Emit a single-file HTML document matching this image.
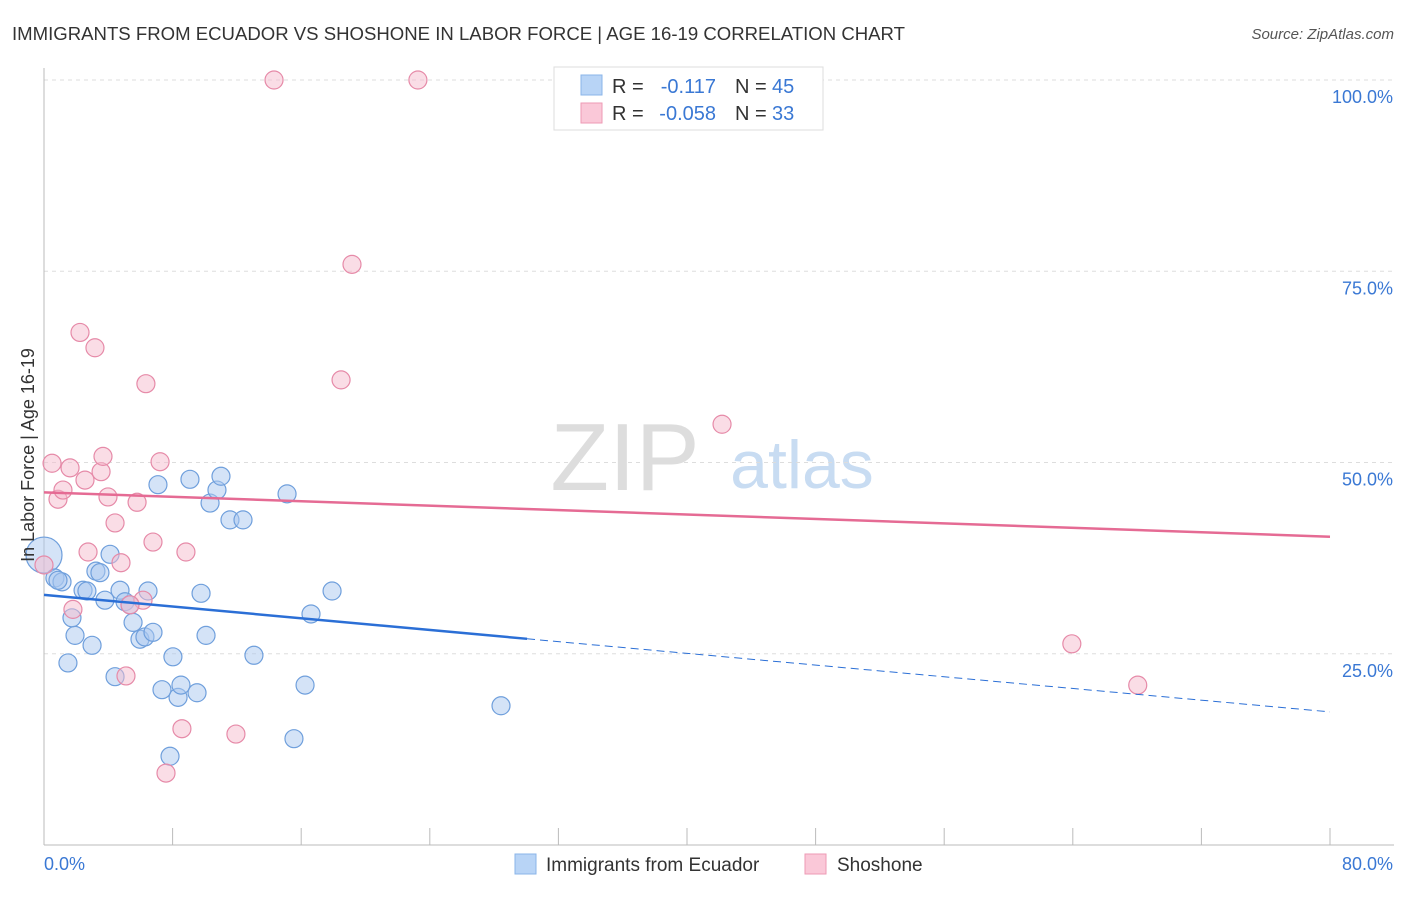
<!DOCTYPE html>
<html><head><meta charset="utf-8"><style>
body{margin:0;background:#fff;font-family:"Liberation Sans",sans-serif;}
svg text{font-family:"Liberation Sans",sans-serif;}
</style></head><body>
<svg id="c" width="1406" height="892" xmlns="http://www.w3.org/2000/svg">
<text x="12" y="40" font-size="18" fill="#333" textLength="893" lengthAdjust="spacingAndGlyphs">IMMIGRANTS FROM ECUADOR VS SHOSHONE IN LABOR FORCE | AGE 16-19 CORRELATION CHART</text>
<text x="1394" y="39" font-size="15" fill="#555" text-anchor="end" font-style="italic">Source: ZipAtlas.com</text>
<text x="625" y="490" font-size="96" fill="#ddd" font-family="Liberation Serif" text-anchor="middle">ZIP</text>
<text x="802" y="488" font-size="68" fill="#c8dcf2" text-anchor="middle">atlas</text>
<g id="grid"></g><g id="axes"></g><g id="marks"></g>
<text transform="translate(34,455) rotate(-90)" font-size="18" fill="#333" text-anchor="middle">In Labor Force | Age 16-19</text>
<g>
<rect x="554" y="67" width="269" height="63" fill="#fff" stroke="#ddd"/>
<rect x="581" y="75" width="21" height="20" fill="#b8d4f6" stroke="#8ab4e8"/>
<rect x="581" y="103" width="21" height="20" fill="#fac8d8" stroke="#ee9ab4"/>
<text x="612" y="93" font-size="20" fill="#333">R =</text><text x="716" y="93" font-size="20" fill="#3a78d4" text-anchor="end">-0.117</text>
<text x="735" y="93" font-size="20" fill="#333">N =</text><text x="772" y="93" font-size="20" fill="#3a78d4">45</text>
<text x="612" y="120" font-size="20" fill="#333">R =</text><text x="716" y="120" font-size="20" fill="#3a78d4" text-anchor="end">-0.058</text>
<text x="735" y="120" font-size="20" fill="#333">N =</text><text x="772" y="120" font-size="20" fill="#3a78d4">33</text>
</g>
<g>
<rect x="515" y="854" width="21" height="20" fill="#b8d4f6" stroke="#8ab4e8"/>
<text x="546" y="871" font-size="19" fill="#333">Immigrants from Ecuador</text>
<rect x="805" y="854" width="21" height="20" fill="#fac8d8" stroke="#ee9ab4"/>
<text x="837" y="871" font-size="19" fill="#333">Shoshone</text>
</g>
</svg>
<script>
const blueX=[0,0.68,1.12,1.49,1.93,1.74,2.43,2.67,2.99,3.23,3.48,3.79,4.11,4.42,4.73,5.04,5.35,5.54,5.97,6.28,6.47,6.78,7.09,7.34,7.84,8.02,8.34,8.52,9.08,9.52,9.77,10.08,10.33,10.76,11.01,11.57,12.38,13.06,15.12,15.55,16.24,16.61,17.92,28.43,0.87];
const blueY=[37.9,34.9,34.4,23.8,27.4,29.7,33.3,33.2,26.1,35.8,35.6,32.0,38.0,22.0,33.3,31.8,31.4,29.1,26.9,27.2,33.2,27.8,47.1,20.3,11.6,24.6,19.3,20.9,47.8,19.9,32.9,27.4,44.7,46.4,48.2,42.5,42.5,24.8,45.9,13.9,20.9,30.2,33.2,18.2,34.6];
const pinkX=[0,0.5,0.87,1.18,1.62,1.8,2.24,2.55,2.74,3.17,3.55,3.67,3.98,4.42,4.79,5.1,5.79,6.16,6.34,6.78,7.22,7.59,8.58,8.83,11.94,14.31,18.48,19.16,23.26,42.18,63.94,68.04,5.35];
const pinkY=[36.6,49.9,45.2,46.4,49.3,30.8,67.0,47.7,38.3,65.0,48.8,50.8,45.5,42.1,36.9,22.1,44.8,32.0,60.3,39.6,50.1,9.4,15.2,38.3,14.5,100,60.8,75.9,100,55.0,26.3,20.9,31.4];
const blueTrend=[32.7,17.4]; const blueSolidEnd=30.05;
const pinkTrend=[46.1,40.3];
const yTicks=[25,50,75,100];
const xTickLabels=["0.0%","80.0%"];
const NS="http://www.w3.org/2000/svg";
const X=v=>44+v/80*1286, Y=v=>845-v/100*765;
function mk(p,t,a){const e=document.createElementNS(NS,t);for(const k in a)e.setAttribute(k,a[k]);document.getElementById(p).appendChild(e);return e;}
yTicks.forEach(t=>{
 const l=mk('grid','line',{x1:44,x2:1394,y1:Y(t),y2:Y(t),stroke:'#ddd','stroke-dasharray':'4,4'});
 
 
 const tx=mk('axes','text',{x:1393,y:Y(t)+23,'font-size':18,fill:'#3a78d4','text-anchor':'end'});
 tx.textContent=t.toFixed(1)+'%';
 
 
});
mk('axes','line',{x1:44,x2:44,y1:68,y2:845,stroke:'#bbb'});
mk('axes','line',{x1:44,x2:1394,y1:845,y2:845,stroke:'#bbb'});
for(let i=0;i<=10;i++){const e=mk('axes','line',{x1:X(i*8),x2:X(i*8),y1:845,y2:828,stroke:'#bbb'});
 
 }
const t0=mk('axes','text',{x:44,y:870,'font-size':18,fill:'#3a78d4'});t0.textContent=xTickLabels[0];


const t1=mk('axes','text',{x:1393,y:870,'font-size':18,fill:'#3a78d4','text-anchor':'end'});t1.textContent=xTickLabels[1];


function pts(xs,ys,fill,stroke,name){xs.forEach((x,i)=>{const r=(x===0&&name==='ecuador-point'&&i===0)?18:9;
 const c=mk('marks','circle',{cx:X(x),cy:Y(ys[i]),r:r,fill:fill,'fill-opacity':0.5,stroke:stroke,'stroke-width':1.2});
 
 });}
pts(blueX,blueY,'#a9c8f0','#6f9fdc','ecuador-point');
pts(pinkX,pinkY,'#f6bccd','#e68aa8','shoshone-point');
const by=x=>blueTrend[0]+(blueTrend[1]-blueTrend[0])*x/80;
const b1=mk('marks','line',{x1:X(0),y1:Y(by(0)),x2:X(blueSolidEnd),y2:Y(by(blueSolidEnd)),stroke:'#2b6fd6','stroke-width':2.5});


const b2=mk('marks','line',{x1:X(blueSolidEnd),y1:Y(by(blueSolidEnd)),x2:X(80),y2:Y(by(80)),stroke:'#2b6fd6','stroke-width':1,'stroke-dasharray':'8,5'});


const p1=mk('marks','line',{x1:X(0),y1:Y(pinkTrend[0]),x2:X(80),y2:Y(pinkTrend[1]),stroke:'#e56b94','stroke-width':2.5});


</script>
</body></html>
